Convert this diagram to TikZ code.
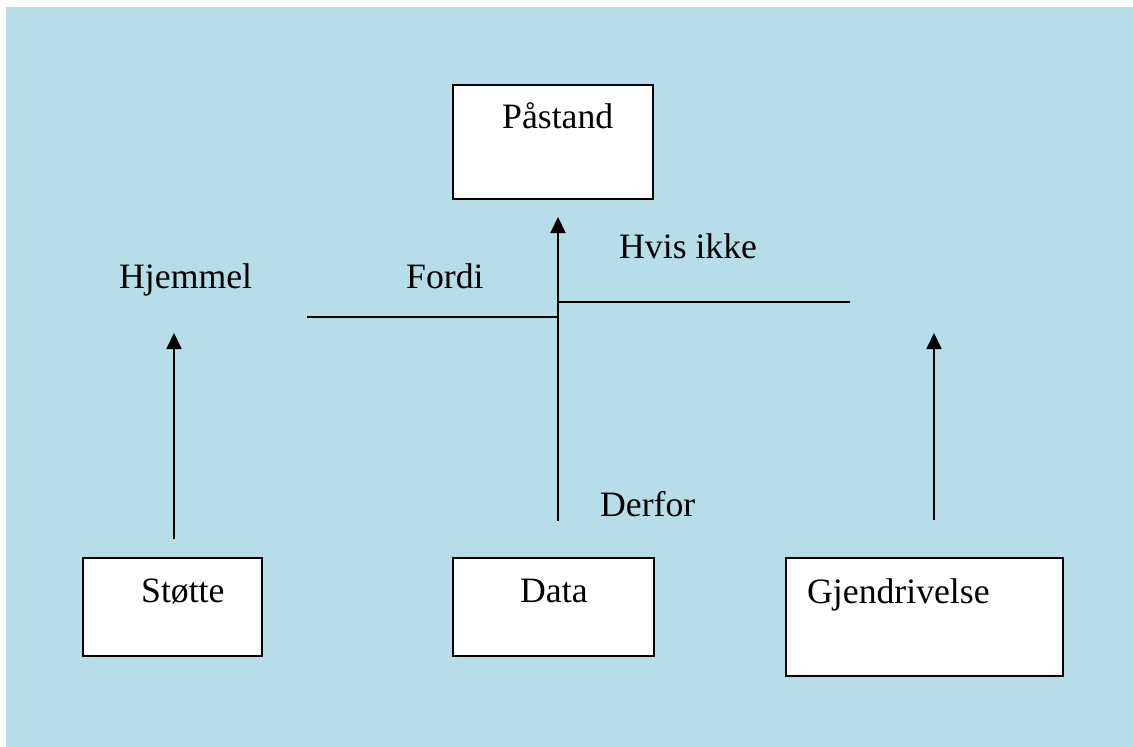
\documentclass[tikz,border=0pt]{standalone}
\usepackage{fontspec}
\setmainfont{Liberation Serif}
\usetikzlibrary{arrows.meta}
\definecolor{bgblue}{RGB}{183,221,232}
\begin{document}
\begin{tikzpicture}[x=1pt,y=-1pt,
  box/.style={draw=black,fill=white,line width=2pt,inner sep=0pt},
  lbl/.style={anchor=base west,inner sep=0pt,font=\fontsize{35.7}{40}\selectfont},
  ln/.style={line width=2pt},
  arr/.style={line width=2pt,-{Triangle[width=15pt,length=16pt]}}]
\useasboundingbox (0,0) rectangle (1133,747);
\fill[bgblue] (6,7) rectangle (1133,747);
% boxes
\node[box,minimum width=200pt,minimum height=114pt] (pbox) at (553,142) {};
\node[box,minimum width=179pt,minimum height=98pt] (sbox) at (172.5,607) {};
\node[box,minimum width=201pt,minimum height=98pt] (dbox) at (553.5,607) {};
\node[box,minimum width=277pt,minimum height=118pt] (gbox) at (924.5,617) {};
% texts
\node[lbl] (ptxt) at (502,128) {Påstand};
\node[lbl] (stxt) at (141,602) {Støtte};
\node[lbl] (dtxt) at (520,602) {Data};
\node[lbl] (gtxt) at (807,603) {Gjendrivelse};
\node[lbl] (hjem) at (119,288) {Hjemmel};
\node[lbl] (fordi) at (406,288) {Fordi};
\node[lbl] (hvis) at (619,258) {Hvis ikke};
\node[lbl] (derfor) at (600,516) {Derfor};
% connector points
\coordinate (cbot) at (558,521);
\coordinate (ctop) at (558,217);
\coordinate (fl) at (307,317);
\coordinate (fr) at (558,317);
\coordinate (hl) at (558,302);
\coordinate (hr) at (850,302);
\coordinate (lbot) at (174,539);
\coordinate (ltop) at (174,333);
\coordinate (rbot) at (934,520);
\coordinate (rtop) at (934,333);
% connectors
\draw[arr] (cbot) -- (ctop);
\draw[ln] (fl) -- (fr);
\draw[ln] (hl) -- (hr);
\draw[arr] (lbot) -- (ltop);
\draw[arr] (rbot) -- (rtop);
\end{tikzpicture}
\end{document}
